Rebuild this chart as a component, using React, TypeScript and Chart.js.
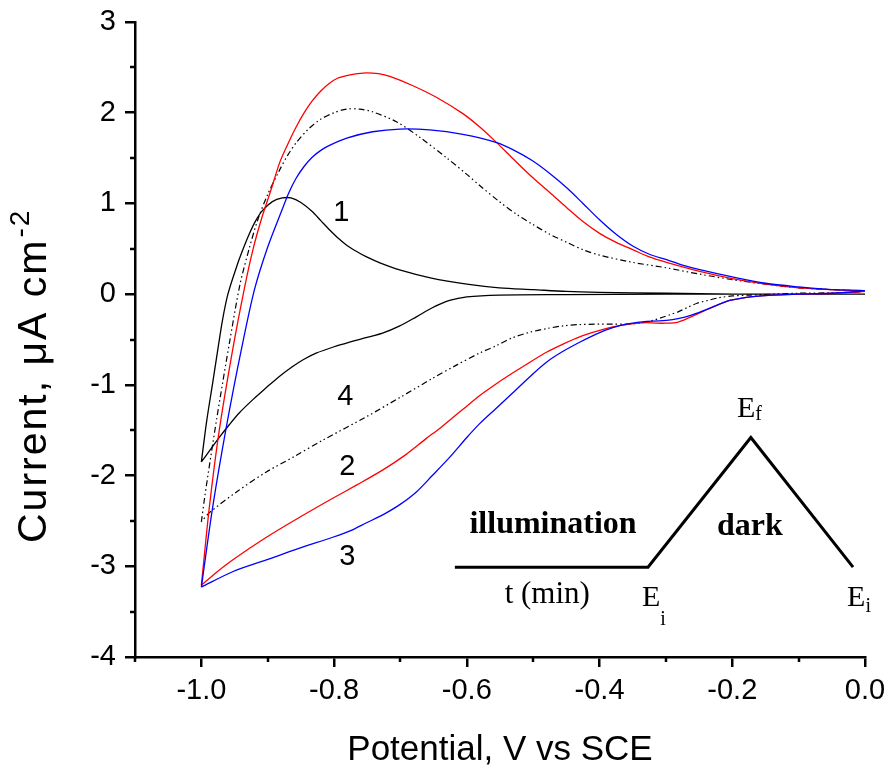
import React, { useEffect, useRef } from 'react';
import { Chart, registerables } from 'chart.js';
Chart.register(...registerables);

// Axis ticks
const xMajorTicks = [-1.0, -0.8, -0.6, -0.4, -0.2, 0.0];
const xMinorTicks = [-1.1, -0.9, -0.7, -0.5, -0.3, -0.1];
const yMajorTicks = [-4, -3, -2, -1, 0, 1, 2, 3];
const yMinorTicks = [-3.5, -2.5, -1.5, -0.5, 0.5, 1.5, 2.5];

// Curve 1 (black solid): forward then reverse scan
const curve1Potential = [
  -1.0, -0.992, -0.983, -0.975, -0.968, -0.96, -0.947, -0.938, -0.928, -0.918, -0.908, -0.893, -0.878, -0.865, -0.85, -0.833, -0.82, -0.807, -0.795, -0.781, -0.766, -0.751, -0.731, -0.70, -0.655, -0.60, -0.551, -0.50, -0.45, -0.40, -0.3, -0.2, 0.0,
  -0.3, -0.45, -0.551, -0.60, -0.626, -0.652, -0.676, -0.701, -0.727, -0.752, -0.777, -0.80, -0.827, -0.846, -0.863, -0.883, -0.902, -0.922, -0.943, -0.958, -0.973, -0.987, -1.0,
];
const curve1Current = [
  -1.85, -1.40, -0.98, -0.60, -0.28, 0.0, 0.30, 0.48, 0.66, 0.81, 0.92, 1.02, 1.06, 1.06, 1.01, 0.91, 0.81, 0.71, 0.625, 0.54, 0.47, 0.41, 0.345, 0.265, 0.18, 0.11, 0.07, 0.05, 0.03, 0.02, 0.01, 0.0, 0.0,
  0.0, -0.005, -0.01, -0.03, -0.07, -0.15, -0.25, -0.35, -0.43, -0.48, -0.53, -0.58, -0.65, -0.72, -0.80, -0.91, -1.03, -1.16, -1.31, -1.44, -1.58, -1.72, -1.85,
];

// Curve 2 (red)
const curve2Potential = [
  -1.0, -0.988, -0.973, -0.953, -0.935, -0.922, -0.909, -0.895, -0.882, -0.87, -0.857, -0.845, -0.833, -0.82, -0.807, -0.795, -0.781, -0.765, -0.751, -0.733, -0.716, -0.682, -0.646, -0.606, -0.58, -0.555, -0.53, -0.503, -0.475, -0.449, -0.425, -0.40, -0.375, -0.35, -0.325, -0.299, -0.249, -0.2, -0.15, -0.1, -0.05, 0.0,
  -0.05, -0.1, -0.14, -0.173, -0.19, -0.204, -0.229, -0.25, -0.268, -0.283, -0.30, -0.315, -0.329, -0.355, -0.38, -0.405, -0.43, -0.455, -0.48, -0.505, -0.531, -0.556, -0.581, -0.601, -0.621, -0.641, -0.661, -0.694, -0.727, -0.765, -0.802, -0.852, -0.902, -0.953, -0.978, -1.0,
];
const curve2Current = [
  -3.21, -2.35, -1.50, -0.62, 0.07, 0.50, 0.84, 1.15, 1.45, 1.65, 1.845, 2.0, 2.13, 2.24, 2.325, 2.38, 2.41, 2.43, 2.44, 2.43, 2.40, 2.30, 2.17, 1.99, 1.84, 1.67, 1.49, 1.30, 1.12, 0.95, 0.80, 0.67, 0.57, 0.49, 0.41, 0.35, 0.25, 0.17, 0.11, 0.07, 0.05, 0.03,
  0.01, 0.0, -0.01, -0.03, -0.05, -0.07, -0.14, -0.21, -0.27, -0.31, -0.32, -0.32, -0.315, -0.33, -0.36, -0.41, -0.47, -0.55, -0.64, -0.75, -0.87, -0.99, -1.12, -1.24, -1.36, -1.48, -1.59, -1.78, -1.94, -2.10, -2.25, -2.46, -2.68, -2.93, -3.07, -3.21,
];

// Curve 3 (blue)
const curve3Potential = [
  -1.0, -0.983, -0.962, -0.94, -0.92, -0.90, -0.88, -0.868, -0.857, -0.845, -0.833, -0.82, -0.807, -0.781, -0.742, -0.701, -0.656, -0.606, -0.555, -0.53, -0.501, -0.475, -0.449, -0.425, -0.40, -0.375, -0.35, -0.325, -0.299, -0.275, -0.249, -0.2, -0.15, -0.1, -0.05, 0.0,
  -0.05, -0.1, -0.14, -0.173, -0.19, -0.204, -0.229, -0.253, -0.27, -0.29, -0.31, -0.329, -0.355, -0.38, -0.405, -0.43, -0.455, -0.48, -0.505, -0.531, -0.556, -0.581, -0.60, -0.626, -0.652, -0.676, -0.701, -0.726, -0.751, -0.776, -0.802, -0.852, -0.902, -0.953, -1.0,
];
const curve3Current = [
  -3.23, -2.35, -1.45, -0.62, 0.05, 0.52, 0.90, 1.12, 1.28, 1.41, 1.51, 1.585, 1.64, 1.72, 1.79, 1.82, 1.81, 1.76, 1.67, 1.59, 1.47, 1.33, 1.17, 1.00, 0.82, 0.66, 0.53, 0.44, 0.38, 0.32, 0.27, 0.19, 0.12, 0.08, 0.05, 0.04,
  0.01, 0.0, -0.01, -0.03, -0.05, -0.07, -0.14, -0.21, -0.25, -0.28, -0.295, -0.30, -0.325, -0.37, -0.44, -0.53, -0.63, -0.75, -0.91, -1.09, -1.26, -1.43, -1.58, -1.80, -2.00, -2.18, -2.32, -2.43, -2.52, -2.61, -2.68, -2.80, -2.93, -3.06, -3.23,
];

// Curve 4 (black dash-dot)
const curve4Potential = [
  -1.0, -0.995, -0.986, -0.977, -0.968, -0.958, -0.942, -0.928, -0.915, -0.90, -0.882, -0.87, -0.857, -0.84, -0.822, -0.80, -0.781, -0.762, -0.742, -0.706, -0.671, -0.630, -0.60, -0.581, -0.551, -0.525, -0.501, -0.475, -0.449, -0.425, -0.40, -0.35, -0.299, -0.249, -0.2, -0.15, -0.1, -0.05, 0.0,
  -0.05, -0.1, -0.173, -0.2, -0.22, -0.237, -0.253, -0.267, -0.28, -0.293, -0.305, -0.32, -0.339, -0.36, -0.38, -0.43, -0.455, -0.48, -0.505, -0.531, -0.556, -0.581, -0.615, -0.652, -0.701, -0.751, -0.817, -0.86, -0.902, -0.945, -0.988, -1.0,
];
const curve4Current = [
  -2.51, -2.24, -1.80, -1.38, -0.98, -0.55, 0.10, 0.50, 0.82, 1.10, 1.37, 1.53, 1.67, 1.81, 1.92, 2.0, 2.04, 2.04, 2.01, 1.90, 1.73, 1.50, 1.32, 1.20, 1.02, 0.88, 0.77, 0.66, 0.57, 0.49, 0.43, 0.35, 0.29, 0.22, 0.16, 0.11, 0.07, 0.05, 0.03,
  0.015, 0.01, -0.01, -0.02, -0.04, -0.07, -0.10, -0.145, -0.19, -0.225, -0.255, -0.29, -0.32, -0.33, -0.33, -0.335, -0.35, -0.38, -0.42, -0.48, -0.57, -0.65, -0.78, -0.93, -1.14, -1.35, -1.61, -1.79, -1.96, -2.17, -2.41, -2.51,
];

// Inset potential-programme sketch (in chart units)
const insetX = [-0.618, -0.327, -0.172, -0.018];
const insetY = [-3.01, -3.01, -1.58, -3.01];

// Curve number labels
const curveLabels = ['1', '4', '2', '3'];
const curveLabelX = [-0.789, -0.783, -0.78, -0.78];
const curveLabelY = [0.89, -1.13, -1.91, -2.90];

const toPoints = (xs: number[], ys: number[]) => xs.map((v, i) => ({ x: v, y: ys[i] }));

const overlayPlugin = {
  id: 'overlay',
  afterDraw(chart: any) {
    const { ctx, chartArea } = chart;
    const xs = chart.scales.x;
    const ys = chart.scales.y;
    ctx.save();
    // minor ticks
    ctx.strokeStyle = '#000';
    ctx.lineWidth = 2.5;
    ctx.beginPath();
    for (const v of xMinorTicks) {
      const px = Math.round(xs.getPixelForValue(v));
      ctx.moveTo(px, chartArea.bottom);
      ctx.lineTo(px, chartArea.bottom + 5);
    }
    for (const v of yMinorTicks) {
      const py = Math.round(ys.getPixelForValue(v));
      ctx.moveTo(chartArea.left, py);
      ctx.lineTo(chartArea.left - 5, py);
    }
    ctx.stroke();

    ctx.fillStyle = '#000';
    // curve labels
    ctx.font = '29px "Liberation Sans", Arial, sans-serif';
    ctx.textAlign = 'center';
    ctx.textBaseline = 'middle';
    curveLabels.forEach((t, i) => {
      ctx.fillText(t, xs.getPixelForValue(curveLabelX[i]), ys.getPixelForValue(curveLabelY[i]));
    });

    // inset texts
    ctx.textAlign = 'left';
    ctx.textBaseline = 'alphabetic';
    const serif = '"Liberation Serif", "Times New Roman", serif';
    ctx.font = `bold 32px ${serif}`;
    ctx.fillText('illumination', xs.getPixelForValue(-0.596), ys.getPixelForValue(-2.634));
    ctx.fillText('dark', xs.getPixelForValue(-0.223), ys.getPixelForValue(-2.656));
    ctx.font = `31px ${serif}`;
    ctx.fillText('t (min)', xs.getPixelForValue(-0.543), ys.getPixelForValue(-3.41));
    const drawSub = (main: string, sub: string, vx: number, vy: number, dy: number) => {
      const px = xs.getPixelForValue(vx);
      const py = ys.getPixelForValue(vy);
      ctx.font = `30px ${serif}`;
      ctx.fillText(main, px, py);
      const w = ctx.measureText(main).width;
      ctx.font = `20px ${serif}`;
      ctx.fillText(sub, px + w, py + dy);
    };
    drawSub('E', 'i', -0.336, -3.44, 19);
    drawSub('E', 'f', -0.193, -1.355, 3);
    drawSub('E', 'i', -0.027, -3.44, 6);

    // axis titles
    const sans = '"Liberation Sans", Arial, sans-serif';
    ctx.font = `35px ${sans}`;
    ctx.textAlign = 'center';
    ctx.fillText('Potential, V vs SCE', (chartArea.left + chartArea.right) / 2, 760);

    ctx.save();
    ctx.translate(46, 543);
    ctx.rotate(-Math.PI / 2);
    ctx.textAlign = 'left';
    ctx.font = `41px ${sans}`;
    try { (ctx as any).letterSpacing = '2px'; } catch (e) { /* ignore */ }
    const main = 'Current, \u03BCA cm';
    ctx.fillText(main, 0, 0);
    const mw = ctx.measureText(main).width;
    ctx.font = `28px ${sans}`;
    ctx.fillText('-2', mw + 1, -17);
    try { (ctx as any).letterSpacing = '0px'; } catch (e) { /* ignore */ }
    ctx.restore();

    ctx.restore();
  },
};

const zeroPad = (s: any) => {
  s.paddingTop = 0;
  s.paddingBottom = 0;
  s.paddingLeft = 0;
  s.paddingRight = 0;
};

export default function App() {
  const ref = useRef<HTMLCanvasElement | null>(null);
  useEffect(() => {
    document.body.style.margin = '0';
    const canvas = ref.current!;
    const line = (xs: number[], ys: number[], color: string, extra: any = {}) => ({
      data: toPoints(xs, ys),
      borderColor: color,
      backgroundColor: color,
      borderWidth: 1.3,
      pointRadius: 0,
      showLine: true,
      tension: 0.3,
      fill: false,
      ...extra,
    });
    const chart = new Chart(canvas, {
      type: 'scatter',
      data: {
        datasets: [
          line(curve3Potential, curve3Current, '#0000ff'),
          line(curve2Potential, curve2Current, '#ff0000'),
          line(curve1Potential, curve1Current, '#000000'),
          line(curve4Potential, curve4Current, '#000000', { borderDash: [6, 3, 1.5, 3, 1.5, 3], borderWidth: 1.2 }),
          line(insetX, insetY, '#000000', { tension: 0, borderWidth: 3 }),
        ],
      },
      options: {
        responsive: false,
        animation: false,
        events: [],
        layout: { padding: { left: 0, right: 22, top: 22, bottom: 0 } },
        plugins: { legend: { display: false }, tooltip: { enabled: false } },
        scales: {
          x: {
            type: 'linear',
            min: -1.1,
            max: 0,
            afterBuildTicks: (s: any) => { s.ticks = xMajorTicks.map((v) => ({ value: v })); },
            afterFit: (s: any) => { s.height = 109; zeroPad(s); },
            ticks: {
              color: '#000',
              padding: 7,
              maxRotation: 0,
              font: { family: '"Liberation Sans", Arial, sans-serif', size: 29 },
              callback: (v: any) => Number(v).toFixed(1),
            },
            grid: { drawOnChartArea: false, drawTicks: true, tickLength: 10, lineWidth: 2.5, color: '#000' },
            border: { display: true, color: '#000', width: 2.5 },
          },
          y: {
            type: 'linear',
            min: -4,
            max: 3,
            afterBuildTicks: (s: any) => { s.ticks = yMajorTicks.map((v) => ({ value: v })); },
            afterFit: (s: any) => { s.width = 135; zeroPad(s); },
            ticks: {
              color: '#000',
              padding: 9,
              font: { family: '"Liberation Sans", Arial, sans-serif', size: 29 },
              callback: (v: any) => String(v),
            },
            grid: { drawOnChartArea: false, drawTicks: true, tickLength: 10, lineWidth: 2.5, color: '#000' },
            border: { display: true, color: '#000', width: 2.5 },
          },
        },
      },
      plugins: [overlayPlugin],
    } as any);
    return () => chart.destroy();
  }, []);
  return <canvas ref={ref} width={887} height={766} style={{ display: 'block' }} />;
}
